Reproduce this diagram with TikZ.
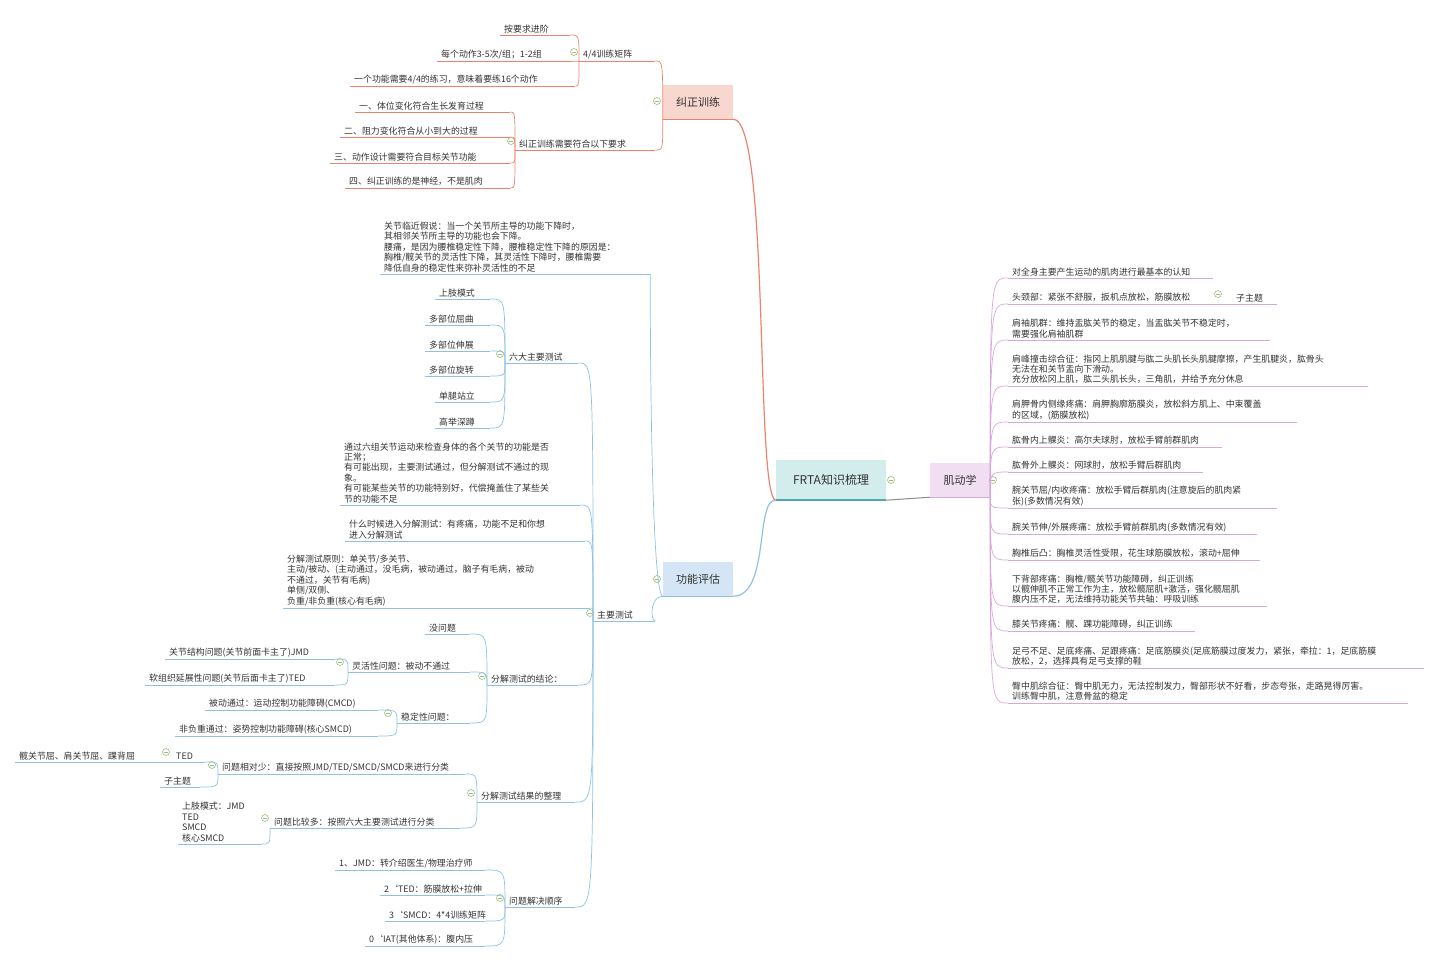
\documentclass[tikz,border=0pt]{standalone}
\usepackage{fontspec}
\setmainfont{Noto Sans CJK SC}
\definecolor{cR}{HTML}{E8846C}
\definecolor{cB}{HTML}{8FC1E3}
\definecolor{cP}{HTML}{D9A8DA}
\definecolor{cG}{HTML}{9BBF7A}
\definecolor{fC}{HTML}{D3ECEC}
\definecolor{lC}{HTML}{4BAAB0}
\definecolor{fR}{HTML}{F8D7CE}
\definecolor{fB}{HTML}{D4E6F5}
\definecolor{fP}{HTML}{F2DEF2}
\begin{document}
\begin{tikzpicture}[x=1pt,y=-1pt,
  fs/.style={font=\fontsize{8.9}{10.4}\selectfont},
  leaf/.style={anchor=south west,inner xsep=4pt,inner ysep=2pt,align=left,fs,text=black!80},
  ul/.style={append after command={(\tikzlastnode.south west) edge[draw=#1,line width=0.7pt] (\tikzlastnode.south east)}},
  lk/.style={draw=#1,line width=0.7pt},
  col/.style={circle,draw=cG,fill=white,minimum size=7pt,inner sep=0pt,line width=0.6pt,
    path picture={\draw[cG,line width=0.6pt] ([xshift=-1.8pt]path picture bounding box.center) -- ([xshift=1.8pt]path picture bounding box.center);}},
  box/.style={anchor=center,inner sep=0pt,font=\fontsize{11}{13}\selectfont,text=black!80}]
\useasboundingbox (0,0) rectangle (1440,961);

% centre
\node[box,fill=fC,minimum width=110,minimum height=40,font=\fontsize{12}{14}\selectfont] (f) at (831,480) {FRTA知识梳理};
\draw[lC,line width=1.6pt] (f.south west) -- (f.south east);
\node[col] (cf) at (891,480) {};

% main branches
\node[box,fill=fR,minimum width=70,minimum height=34] (jz) at (698,102) {纠正训练};
\draw[cR,line width=1.4pt] (jz.south west) -- (jz.south east);
\node[col] at (657,101) {};
\node[box,fill=fB,minimum width=70,minimum height=34] (gn) at (698,579) {功能评估};
\draw[cB,line width=1.4pt] (gn.south west) -- (gn.south east);
\node[col] at (657,579) {};
\node[box,fill=fP,minimum width=60,minimum height=34] (jd) at (960,480) {肌动学};
\draw[cP,line width=1.4pt] (jd.south west) -- (jd.south east);
\node[col] at (993,480) {};

\draw[lk=cR,line width=1.2pt] (f.south west) .. controls (755,498) and (770,119) .. (jz.south east);
\draw[lk=cB,line width=1.2pt] (f.south west) .. controls (755,498) and (770,596) .. (gn.south east);
\draw[lk=black!45,line width=1pt] (f.south east) -- (jd.south west);

% ---------- 纠正训练
\node[leaf,ul=cR,text width=68] (m44) at (579,61) {4/4训练矩阵};
\node[col] at (574,52) {};
\node[leaf,ul=cR,text width=62] (a1) at (500,35) {按要求进阶};
\node[leaf,ul=cR,text width=125] (a2) at (437,61) {每个动作3-5次/组；1-2组};
\node[leaf,ul=cR,text width=217] (a3) at (350,86) {一个功能需要4/4的练习，意味着要练16个动作};
\node[leaf,ul=cR,text width=132] (req) at (515,150) {纠正训练需要符合以下要求};
\node[col] at (511,141) {};
\node[leaf,ul=cR,text width=147] (b1) at (355,112) {一、体位变化符合生长发育过程};
\node[leaf,ul=cR,text width=162] (b2) at (340,137) {二、阻力变化符合从小到大的过程};
\node[leaf,ul=cR,text width=172] (b3) at (330,163) {三、动作设计需要符合目标关节功能};
\node[leaf,ul=cR,text width=157] (b4) at (345,188) {四、纠正训练的是神经，不是肌肉};
\foreach \c in {m44,req}
  \draw[lk=cR] (jz.south west) .. controls (jz.south west |- \c.south east) .. (\c.south east);
\foreach \c in {a1,a2,a3}
  \draw[lk=cR] (m44.south west) .. controls (m44.south west |- \c.south east) .. (\c.south east);
\foreach \c in {b1,b2,b3,b4}
  \draw[lk=cR] (req.south west) .. controls (req.south west |- \c.south east) .. (\c.south east);

% ---------- 功能评估
\coordinate (gx) at (650,596);
\node[leaf,ul=cB,text width=262] (hyp) at (380,274) {关节临近假说：当一个关节所主导的功能下降时，\\其相邻关节所主导的功能也会下降。\\腰痛，是因为腰椎稳定性下降，腰椎稳定性下降的原因是：\\胸椎/髋关节的灵活性下降，其灵活性下降时，腰椎需要\\降低自身的稳定性来弥补灵活性的不足};
\node[leaf,ul=cB,text width=54] (zy) at (593,621) {主要测试};
\node[col] at (590,613) {};
\foreach \c in {hyp,zy}
  \draw[lk=cB] (gn.south west) .. controls (gx) and (gx |- \c.south east) .. (\c.south east);

\node[leaf,ul=cB,text width=65] (six) at (505,363) {六大主要测试};
\node[col] at (500,354) {};
\node[leaf,ul=cB,text width=232] (tong) at (340,505) {通过六组关节运动来检查身体的各个关节的功能是否\\正常；\\有可能出现，主要测试通过，但分解测试不通过的现\\象。\\有可能某些关节的功能特别好，代偿掩盖住了某些关\\节的功能不足};
\node[leaf,ul=cB,text width=232] (when) at (345,541) {什么时候进入分解测试：有疼痛，功能不足和你想\\进入分解测试};
\node[leaf,ul=cB,text width=299] (yuan) at (283,608) {分解测试原则：单关节/多关节、\\主动/被动、(主动通过，没毛病，被动通过，脑子有毛病，被动\\不通过，关节有毛病)\\单侧/双侧、\\负重/非负重(核心有毛病)};
\node[leaf,ul=cB,text width=83] (jl) at (487,685) {分解测试的结论：};
\node[col] at (482,676) {};
\node[leaf,ul=cB,text width=90] (zl) at (477,802) {分解测试结果的整理};
\node[col] at (471,793) {};
\node[leaf,ul=cB,text width=62] (sx) at (505,907) {问题解决顺序};
\node[col] at (500,898) {};
\foreach \c in {six,tong,when,yuan,jl,zl,sx}
  \draw[lk=cB] (zy.south west) .. controls (zy.south west |- \c.south east) .. (\c.south east);

\node[leaf,ul=cB,text width=47] (s1) at (435,299) {上肢模式};
\node[leaf,ul=cB,text width=57] (s2) at (425,325) {多部位屈曲};
\node[leaf,ul=cB,text width=57] (s3) at (425,351) {多部位伸展};
\node[leaf,ul=cB,text width=57] (s4) at (425,376) {多部位旋转};
\node[leaf,ul=cB,text width=47] (s5) at (435,402) {单腿站立};
\node[leaf,ul=cB,text width=47] (s6) at (435,428) {高举深蹲};
\foreach \c in {s1,s2,s3,s4,s5,s6}
  \draw[lk=cB] (six.south west) .. controls (six.south west |- \c.south east) .. (\c.south east);

\node[leaf,ul=cB,text width=37] (mw) at (425,634) {没问题};
\node[leaf,ul=cB,text width=114] (lh) at (348,672) {灵活性问题：被动不通过};
\node[col] at (340,662) {};
\node[leaf,ul=cB,text width=65] (wd) at (397,723) {稳定性问题：};
\node[col] at (388,713) {};
\foreach \c in {mw,lh,wd}
  \draw[lk=cB] (jl.south west) .. controls (jl.south west |- \c.south east) .. (\c.south east);
\node[leaf,ul=cB,text width=162] (l1) at (165,659) {关节结构问题(关节前面卡主了)JMD};
\node[leaf,ul=cB,text width=182] (l2) at (145,685) {软组织延展性问题(关节后面卡主了)TED};
\foreach \c in {l1,l2}
  \draw[lk=cB] (lh.south west) .. controls (lh.south west |- \c.south east) .. (\c.south east);
\node[leaf,ul=cB,text width=165] (w1) at (205,710) {被动通过：运动控制功能障碍(CMCD)};
\node[leaf,ul=cB,text width=195] (w2) at (175,736) {非负重通过：姿势控制功能障碍(核心SMCD)};
\foreach \c in {w1,w2}
  \draw[lk=cB] (wd.south west) .. controls (wd.south west |- \c.south east) .. (\c.south east);

\node[leaf,ul=cB,text width=239] (ss) at (218,774) {问题相对少：直接按照JMD/TED/SMCD/SMCD来进行分类};
\node[col] at (212,765) {};
\node[leaf,ul=cB,text width=182] (dd) at (270,828) {问题比较多：按照六大主要测试进行分类};
\node[col] at (265,818) {};
\foreach \c in {ss,dd}
  \draw[lk=cB] (zl.south west) .. controls (zl.south west |- \c.south east) .. (\c.south east);
\node[leaf,ul=cB,text width=25] (ted) at (172,762) {TED};
\node[col] at (166,752) {};
\node[leaf,ul=cB,text width=32] (zz) at (160,787) {子主题};
\foreach \c in {ted,zz}
  \draw[lk=cB] (ss.south west) .. controls (ss.south west |- \c.south east) .. (\c.south east);
\node[leaf,ul=cB,text width=137] (hx) at (15,762) {髋关节屈、肩关节屈、踝背屈};
\draw[lk=cB] (ted.south west) -- (hx.south east);
\node[leaf,ul=cB,text width=76] (sz) at (178,844) {上肢模式：JMD\\TED\\SMCD\\核心SMCD};
\draw[lk=cB] (dd.south west) .. controls (dd.south west |- sz.south east) .. (sz.south east);

\node[leaf,ul=cB,text width=142] (q1) at (335,870) {1、JMD：转介绍医生/物理治疗师};
\node[leaf,ul=cB,text width=97] (q2) at (380,895) {2\symbol{96}TED：筋膜放松+拉伸};
\node[leaf,ul=cB,text width=92] (q3) at (385,921) {3\symbol{96}SMCD：4*4训练矩阵};
\node[leaf,ul=cB,text width=112] (q4) at (365,946) {0\symbol{96}IAT(其他体系)：腹内压};
\foreach \c in {q1,q2,q3,q4}
  \draw[lk=cB] (sx.south west) .. controls (sx.south west |- \c.south east) .. (\c.south east);

% ---------- 肌动学
\node[leaf,ul=cP,text width=197] (k1) at (1008,278) {对全身主要产生运动的肌肉进行最基本的认知};
\node[leaf,ul=cP,text width=192] (k2) at (1008,304) {头颈部：紧张不舒服，扳机点放松，筋膜放松};
\node[col] at (1218,294) {};
\node[leaf,ul=cP,text width=37] (k2s) at (1232,304) {子主题};
\draw[lk=cP] (k2.south east) -- (k2s.south west);
\node[leaf,ul=cP,text width=254] (k3) at (1008,340) {肩袖肌群：维持盂肱关节的稳定，当盂肱关节不稳定时，\\需要强化肩袖肌群};
\node[leaf,ul=cP,text width=352] (k4) at (1008,386) {肩峰撞击综合征：指冈上肌肌腱与肱二头肌长头肌腱摩擦，产生肌腱炎，肱骨头\\无法在和关节盂向下滑动。\\充分放松冈上肌，肱二头肌长头，三角肌，并给予充分休息};
\node[leaf,ul=cP,text width=281] (k5) at (1008,422) {肩胛骨内侧缘疼痛：肩胛胸廓筋膜炎，放松斜方肌上、中束覆盖\\的区域，(筋膜放松)};
\node[leaf,ul=cP,text width=206] (k6) at (1008,447) {肱骨内上髁炎：高尔夫球肘，放松手臂前群肌肉};
\node[leaf,ul=cP,text width=187] (k7) at (1008,472) {肱骨外上髁炎：网球肘，放松手臂后群肌肉};
\node[leaf,ul=cP,text width=261] (k8) at (1008,508) {腕关节屈/内收疼痛：放松手臂后群肌肉(注意旋后的肌肉紧\\张)(多数情况有效)};
\node[leaf,ul=cP,text width=241] (k9) at (1008,534) {腕关节伸/外展疼痛：放松手臂前群肌肉(多数情况有效)};
\node[leaf,ul=cP,text width=244] (k10) at (1008,560) {胸椎后凸：胸椎灵活性受限，花生球筋膜放松，滚动+屈伸};
\node[leaf,ul=cP,text width=251] (k11) at (1008,606) {下背部疼痛：胸椎/髋关节功能障碍，纠正训练\\以髋伸肌不正常工作为主，放松髋屈肌+激活，强化髋屈肌\\腹内压不足，无法维持功能关节共轴：呼吸训练};
\node[leaf,ul=cP,text width=179] (k12) at (1008,631) {膝关节疼痛：髋、踝功能障碍，纠正训练};
\node[leaf,ul=cP,text width=408] (k13) at (1008,668) {足弓不足、足底疼痛、足跟疼痛：足底筋膜炎(足底筋膜过度发力，紧张，牵拉：1，足底筋膜\\放松，2，选择具有足弓支撑的鞋};
\node[leaf,ul=cP,text width=392] (k14) at (1008,703) {臀中肌综合征：臀中肌无力，无法控制发力，臀部形状不好看，步态夸张，走路晃得厉害。\\训练臀中肌，注意骨盆的稳定};
\foreach \c in {k1,k2,k3,k4,k5,k6,k7,k8,k9,k10,k11,k12,k13,k14}
  \draw[lk=cP] (jd.south east) .. controls (jd.south east |- \c.south west) .. (\c.south west);
\end{tikzpicture}
\end{document}
